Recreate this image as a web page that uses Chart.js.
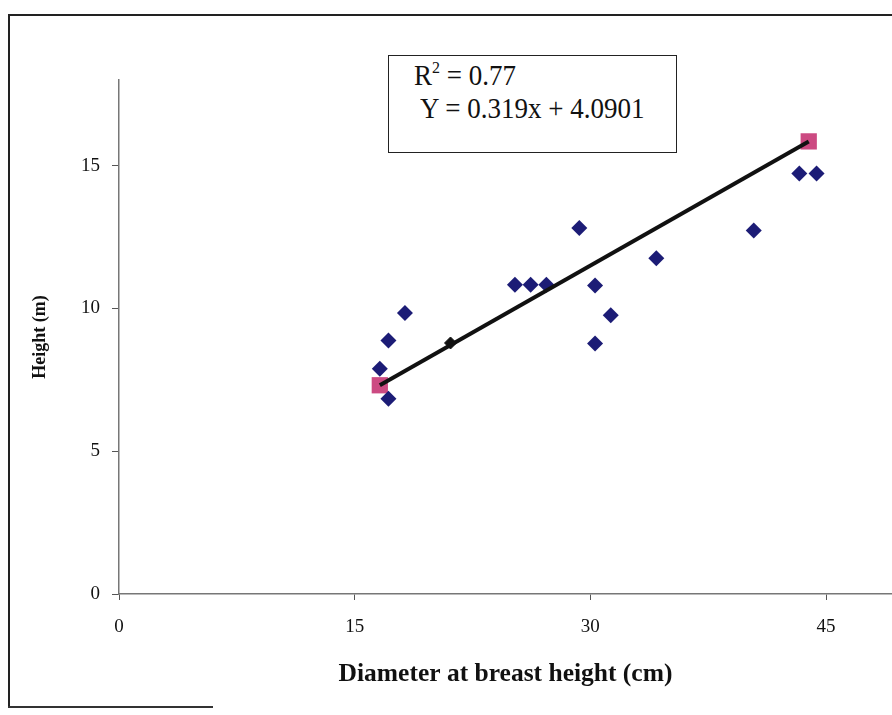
<!DOCTYPE html>
<html>
<head>
<meta charset="utf-8">
<script src="https://cdn.jsdelivr.net/npm/chart.js@4/dist/chart.umd.min.js"></script>
<style>
  body { margin: 0; background: #fff; }
  #wrap { position: relative; width: 892px; height: 715px; overflow: hidden; font-family: "Liberation Serif", "DejaVu Serif", serif; }
  #frame { position: absolute; left: 8px; top: 14px; width: 900px; height: 691px; border-left: 2px solid #222; border-top: 2px solid #222; }
  #frameBottom { position: absolute; left: 8px; top: 706px; width: 205px; border-top: 2px solid #333; }
  #eqBox { position: absolute; left: 388px; top: 55px; width: 287px; height: 96px; border: 1.5px solid #222; background: #fff; color: #111; font-size: 27px; line-height: 27px; }
  #eqBox div { position: absolute; white-space: nowrap; transform: scaleY(1.1); transform-origin: 0 0; }
  #eqBox .r { left: 25px; top: 5px; }
  #eqBox .y { left: 31px; top: 38px; }
  sup { font-size: 16px; vertical-align: 11px; line-height: 0; }
  canvas { position: absolute; left: 0; top: 0; }
</style>
</head>
<body>
<div id="wrap">
  <canvas id="dbhChart" width="892" height="715"></canvas>
  <div id="frame"></div>
  <div id="frameBottom"></div>
  <div id="eqBox">
    <div class="r">R<sup>2</sup> = 0.77</div>
    <div class="y">Y = 0.319x + 4.0901</div>
  </div>
</div>
<script>
// measured trees: diameter at breast height (cm) and height (m)
const dbh = [16.6, 17.15, 17.15, 18.2, 25.2, 26.2, 27.2, 29.3, 30.3, 30.3, 31.3, 34.2, 40.4, 43.3, 44.4];
const treeHeight = [7.89, 6.84, 8.88, 9.84, 10.83, 10.83, 10.83, 12.82, 10.80, 8.77, 9.76, 11.76, 12.73, 14.73, 14.73];

// regression line end points and the marker sitting on it
const trendX = [16.6, 43.9];
const trendY = [7.31, 15.85];
const midX = [21.1];
const midY = [8.79];

const xTicks = [0, 15, 30, 45];
const yTicks = [0, 5, 10, 15];

const toPoints = (xs, ys) => xs.map((x, i) => ({ x: x, y: ys[i] }));

const serif = '"Liberation Serif", "DejaVu Serif", serif';

new Chart(document.getElementById('dbhChart').getContext('2d'), {
  type: 'scatter',
  data: {
    datasets: [
      {
        // fitted line
        type: 'line',
        data: toPoints(trendX, trendY),
        borderColor: '#111',
        borderWidth: 4,
        pointRadius: 0,
        fill: false,
        order: 1
      },
      {
        data: toPoints(midX, midY),
        pointStyle: 'rectRot',
        pointRadius: 6,
        backgroundColor: '#111',
        borderColor: '#111',
        order: 0
      },
      {
        data: toPoints(dbh, treeHeight),
        pointStyle: 'rectRot',
        pointRadius: 8,
        backgroundColor: '#1c1c76',
        borderColor: '#1c1c76',
        borderWidth: 0,
        order: 2
      },
      {
        data: toPoints(trendX, trendY),
        pointStyle: 'rect',
        pointRadius: 11.5,
        backgroundColor: '#cc4a82',
        borderColor: '#cc4a82',
        borderWidth: 0,
        order: 3
      }
    ]
  },
  options: {
    responsive: false,
    animation: false,
    layout: { autoPadding: false, padding: { top: 80, right: 0, left: 0, bottom: 0 } },
    plugins: {
      legend: { display: false },
      tooltip: { enabled: false }
    },
    scales: {
      x: {
        type: 'linear',
        position: 'bottom',
        min: 0,
        max: 49.2,
        afterBuildTicks: s => { s.ticks = xTicks.map(v => ({ value: v })); },
        afterFit: s => { s.height = 121; },
        grid: { drawOnChartArea: false, tickLength: 6, color: '#555' },
        border: { color: '#777', width: 1.5 },
        ticks: { color: '#111', padding: 16, maxRotation: 0, font: { family: serif, size: 19 } },
        title: {
          display: true,
          text: 'Diameter at breast height (cm)',
          color: '#111',
          font: { family: serif, size: 25.5, weight: 'bold' },
          padding: { top: 0, bottom: 25 }
        }
      },
      y: {
        type: 'linear',
        min: 0,
        max: 18,
        afterBuildTicks: s => { s.ticks = yTicks.map(v => ({ value: v })); },
        afterFit: s => { s.width = 119; },
        grid: { drawOnChartArea: false, tickLength: 7, color: '#555' },
        border: { color: '#777', width: 1.5 },
        ticks: { color: '#111', padding: 12, font: { family: serif, size: 19 } },
        title: {
          display: true,
          text: 'Height (m)',
          color: '#111',
          font: { family: serif, size: 18, weight: 'bold' },
          padding: { top: 30, bottom: 0 }
        }
      }
    }
  }
});
</script>
</body>
</html>
